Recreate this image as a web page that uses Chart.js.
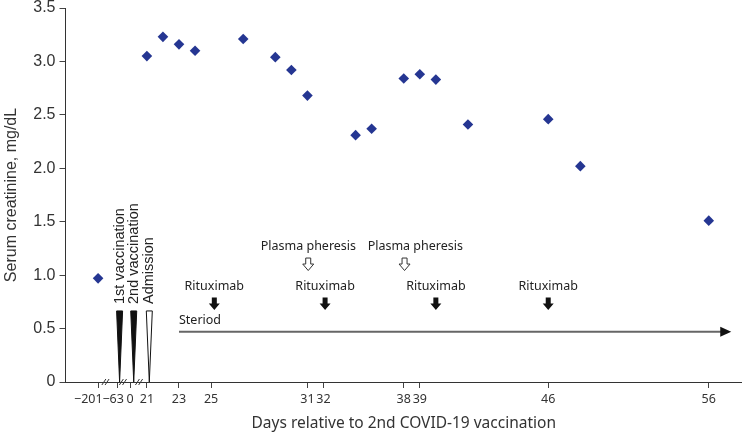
<!DOCTYPE html>
<html>
<head>
<meta charset="utf-8">
<script src="https://cdn.jsdelivr.net/npm/chart.js@4"></script>
<style>
  body { margin: 0; background: #fff; }
  #wrap { width: 742px; height: 438px; }
</style>
</head>
<body>
<div id="wrap"><canvas id="myChart" width="742" height="438"></canvas></div>
<script>
// position on the broken day axis (days before admission are squeezed)
const dayPos = [17.96, 21, 22, 23, 24, 27, 29, 30, 31, 34, 35, 37, 38, 39, 41, 46, 48, 56];
const creatinine = [0.97, 3.05, 3.23, 3.16, 3.10, 3.21, 3.04, 2.92, 2.68, 2.31, 2.37, 2.84, 2.88, 2.83, 2.41, 2.46, 2.02, 1.51];

const tickPos = [17.96, 19.2, 19.95, 21, 23, 25, 31, 32, 37, 38, 46, 56];
// trailing spaces nudge the squeezed labels left, as in the original figure
const tickLabels = ['\u2212201      ', '\u221263   ', '0', '21', '23', '25', '31', '32', '38', '39', '46', '56'];

const breakPos = [18.42, 19.51, 20.51];
const vaccPos = [19.3, 20.18];
const admissionPos = 21.15;
const rituximabPos = [25.2, 32.1, 39, 46];
const pheresisArrowPos = [31.05, 37.05];
const pheresisTextPos = [31.06, 37.72];
const steroidStart = 23, steroidEnd = 57.4;

const annoFont = '12.5px "Noto Sans"';

const annotations = {
    id: 'annotations',
    afterDatasetsDraw(chart) {
        const ctx = chart.ctx;
        const x = chart.scales.x, y = chart.scales.y;
        const base = y.getPixelForValue(0);
        ctx.save();

        // axis break marks
        ctx.strokeStyle = '#333';
        ctx.lineWidth = 1;
        breakPos.forEach(p => {
            const px = x.getPixelForValue(p);
            [-1.6, 1.6].forEach(d => {
                ctx.beginPath();
                ctx.moveTo(px + d - 2, base + 3);
                ctx.lineTo(px + d + 2, base - 3);
                ctx.stroke();
            });
        });

        // vaccination / admission wedges
        const wedgeTop = y.getPixelForValue(0.665);
        const wedge = (p, fill) => {
            const px = x.getPixelForValue(p);
            ctx.beginPath();
            ctx.moveTo(px - 3, wedgeTop);
            ctx.lineTo(px + 3, wedgeTop);
            ctx.lineTo(px, base);
            ctx.closePath();
            ctx.fillStyle = fill;
            ctx.fill();
            ctx.strokeStyle = '#111';
            ctx.stroke();
        };
        wedge(vaccPos[0], '#111');
        wedge(vaccPos[1], '#111');
        wedge(admissionPos, '#fff');

        const vlabels = [['1st vaccination', vaccPos[0]], ['2nd vaccination', vaccPos[1]], ['Admission', admissionPos]];
        ctx.font = '14.5px "Liberation Sans", Arial';
        ctx.fillStyle = '#222';
        ctx.textAlign = 'left';
        ctx.textBaseline = 'middle';
        vlabels.forEach(([t, p]) => {
            ctx.save();
            ctx.translate(x.getPixelForValue(p), y.getPixelForValue(0.73));
            ctx.rotate(-Math.PI / 2);
            ctx.fillText(t, 0, 0);
            ctx.restore();
        });

        // steroid arrow
        const sy = y.getPixelForValue(0.47);
        const sx0 = x.getPixelForValue(steroidStart), sx1 = x.getPixelForValue(steroidEnd);
        ctx.strokeStyle = '#666';
        ctx.lineWidth = 2;
        ctx.beginPath();
        ctx.moveTo(sx0, sy);
        ctx.lineTo(sx1 - 9, sy);
        ctx.stroke();
        ctx.fillStyle = '#111';
        ctx.beginPath();
        ctx.moveTo(sx1, sy);
        ctx.lineTo(sx1 - 11, sy - 5);
        ctx.lineTo(sx1 - 11, sy + 5);
        ctx.closePath();
        ctx.fill();

        ctx.font = annoFont;
        ctx.fillStyle = '#222';
        ctx.textBaseline = 'middle';
        ctx.textAlign = 'left';
        ctx.fillText('Steriod', sx0, y.getPixelForValue(0.575));

        // down arrows
        const downArrow = (px, top, filled) => {
            ctx.beginPath();
            ctx.moveTo(px - 2.5, top);
            ctx.lineTo(px + 2.5, top);
            ctx.lineTo(px + 2.5, top + 6);
            ctx.lineTo(px + 5.5, top + 6);
            ctx.lineTo(px, top + 12.5);
            ctx.lineTo(px - 5.5, top + 6);
            ctx.lineTo(px - 2.5, top + 6);
            ctx.closePath();
            if (filled) {
                ctx.fillStyle = '#111';
                ctx.fill();
            } else {
                ctx.fillStyle = '#fff';
                ctx.fill();
                ctx.strokeStyle = '#333';
                ctx.lineWidth = 1;
                ctx.stroke();
            }
        };

        ctx.textAlign = 'center';
        rituximabPos.forEach(p => {
            const px = x.getPixelForValue(p);
            ctx.fillStyle = '#222';
            ctx.fillText('Rituximab', px, y.getPixelForValue(0.89));
            downArrow(px, y.getPixelForValue(0.79), true);
        });
        pheresisArrowPos.forEach((p, i) => {
            ctx.fillStyle = '#222';
            ctx.fillText('Plasma pheresis', x.getPixelForValue(pheresisTextPos[i]), y.getPixelForValue(1.265));
            downArrow(x.getPixelForValue(p), y.getPixelForValue(1.16), false);
        });

        ctx.restore();
    }
};

const points = dayPos.map((d, i) => ({ x: d, y: creatinine[i] }));

new Chart(document.getElementById('myChart'), {
    type: 'scatter',
    data: {
        datasets: [{
            label: 'Serum creatinine',
            data: points,
            pointStyle: 'rectRot',
            pointRadius: 5.3,
            pointHoverRadius: 5.3,
            backgroundColor: '#253692',
            borderColor: '#253692',
            borderWidth: 0
        }]
    },
    options: {
        responsive: false,
        animation: false,
        layout: { autoPadding: false, padding: { top: 8, right: 0, left: 0, bottom: 0 } },
        plugins: {
            legend: { display: false },
            tooltip: { enabled: false }
        },
        scales: {
            x: {
                type: 'linear',
                min: 15.93,
                max: 58.07,
                afterBuildTicks: scale => {
                    scale.ticks = tickPos.map(v => ({ value: v }));
                },
                afterFit: scale => {
                    scale.height = 56;
                    scale.paddingLeft = 0;
                    scale.paddingRight = 0;
                },
                ticks: {
                    autoSkip: false,
                    maxRotation: 0,
                    padding: 4,
                    color: '#333',
                    font: { family: '"Noto Sans"', size: 12.5 },
                    callback: (v, i) => tickLabels[i]
                },
                grid: { drawOnChartArea: false, drawTicks: true, tickLength: 6, color: '#444' },
                border: { display: true, color: '#333', width: 1 },
                title: {
                    display: true,
                    text: 'Days relative to 2nd COVID-19 vaccination',
                    color: '#333',
                    font: { family: '"Noto Sans"', size: 15.5 },
                    padding: { top: 0, bottom: 5 }
                }
            },
            y: {
                min: 0,
                max: 3.5,
                afterFit: scale => {
                    scale.width = 65.5;
                    scale.paddingTop = 0;
                    scale.paddingBottom = 0;
                },
                ticks: {
                    stepSize: 0.5,
                    padding: 4,
                    color: '#333',
                    font: { family: '"Liberation Sans", Arial', size: 16 },
                    callback: v => v === 0 ? '0' : v.toFixed(1)
                },
                grid: { drawOnChartArea: false, drawTicks: true, tickLength: 6, color: '#444' },
                border: { display: true, color: '#333', width: 1 },
                title: {
                    display: true,
                    text: 'Serum creatinine, mg/dL',
                    color: '#333',
                    font: { family: '"Liberation Sans", Arial', size: 16 },
                    padding: { top: 2, bottom: 0 }
                }
            }
        }
    },
    plugins: [annotations]
});
</script>
</body>
</html>
